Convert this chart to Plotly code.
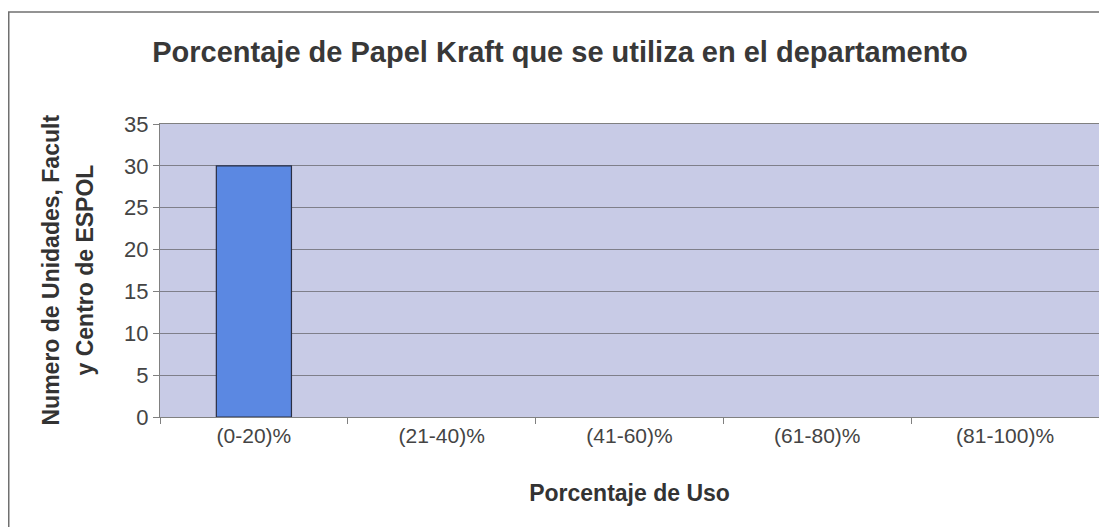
import plotly.graph_objects as go

categories = ["(0-20)%", "(21-40)%", "(41-60)%", "(61-80)%", "(81-100)%"]
values = [30, 0, 0, 0, 0]
y_ticks = [0, 5, 10, 15, 20, 25, 30, 35]

title_text = "Porcentaje de Papel Kraft que se utiliza en el departamento"
x_title = "Porcentaje de Uso"
y_title_lines = ["Numero de Unidades, Facult", "y Centro de ESPOL"]

# the page body adds an 8px offset, so the figure is 8px smaller than the window
OFF = 8
W, H = 1107 - OFF, 527 - OFF
ml, mr, mt, mb = 152, 8, 116, 110
pw, ph = W - ml - mr, H - mt - mb

font_family = "Liberation Sans, Arial, sans-serif"

fig = go.Figure()
fig.add_trace(go.Bar(
    x=categories, y=values,
    marker=dict(color="#5b88e2",
                line=dict(color="#2a2f45", width=[1.2 if v > 0 else 0 for v in values])),
    width=0.4,
))

fig.update_layout(
    width=W, height=H,
    margin=dict(l=ml, r=mr, t=mt, b=mb),
    paper_bgcolor="white",
    plot_bgcolor="#c8cbe6",
    showlegend=False,
    font=dict(family=font_family, color="#333333"),
    title=dict(
        text="<b>" + title_text + "</b>",
        x=552 / W, xanchor="center",
        y=1 - 44 / H, yanchor="middle",
        font=dict(size=29, color="#383838", family=font_family),
    ),
    bargap=0.6,
)

fig.update_xaxes(
    type="category",
    tickson="boundaries",
    ticks="outside", ticklen=6, tickcolor="#808080",
    showline=True, linecolor="#808080", linewidth=1, mirror=True,
    showgrid=False,
    tickfont=dict(size=21, color="#444444"),
    title=dict(text="<b>" + x_title + "</b>", font=dict(size=23, color="#333333"), standoff=38),
)

fig.update_yaxes(
    range=[0, 35],
    tickvals=y_ticks,
    ticks="outside", ticklen=6, tickcolor="#808080",
    showline=True, linecolor="#808080", linewidth=1, mirror=True,
    showgrid=True, gridcolor="#7f7f8a", gridwidth=1,
    zeroline=False,
    tickfont=dict(size=22, color="#444444"),
)

# y-axis title, two lines placed as in the reference
for line_text, px in zip(y_title_lines, [50 - OFF, 84 - OFF]):
    fig.add_annotation(
        text="<b>" + line_text + "</b>",
        xref="paper", yref="paper",
        x=(px - ml) / pw, y=0.5,
        xanchor="center", yanchor="middle",
        textangle=-90, showarrow=False,
        font=dict(size=23, color="#333333", family=font_family),
    )

# outer chart frame (extends past the right and bottom edges)
fig.add_shape(
    type="rect", xref="paper", yref="paper",
    x0=(0.75 - ml) / pw, x1=(W + 5 - ml) / pw,
    y0=(mt + ph - (H + 5)) / ph, y1=(mt + ph - (12 - OFF)) / ph,
    line=dict(color="#707070", width=1.5),
    fillcolor="rgba(0,0,0,0)", layer="below",
)

fig.write_html("out.html")
